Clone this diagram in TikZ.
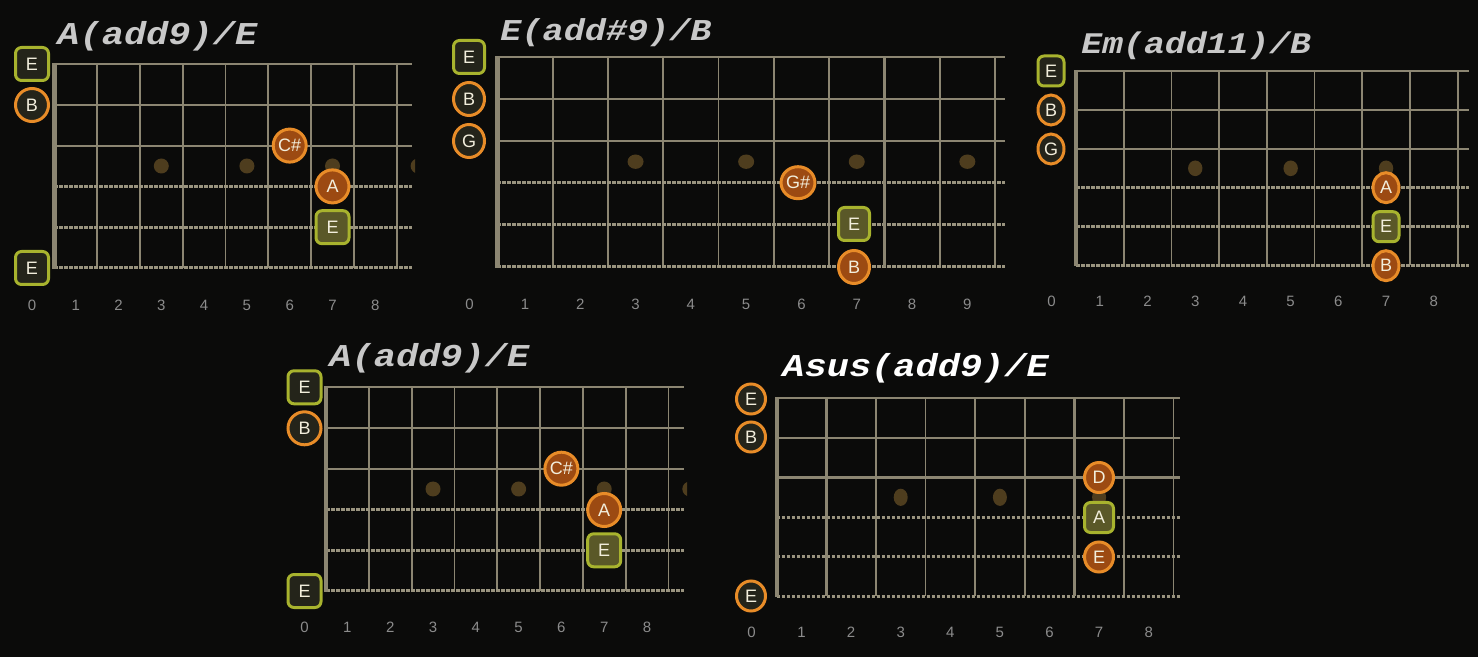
\documentclass[tikz,border=0pt]{standalone}
\usepackage{fontspec}
\setmainfont{Liberation Sans}
\setmonofont{Liberation Mono}
\usetikzlibrary{shapes.geometric}
\definecolor{bg}{HTML}{0B0B0A}
\definecolor{fretc}{HTML}{8C8672}
\definecolor{wound}{HTML}{9A947F}
\definecolor{inlay}{HTML}{4E3D1E}
\definecolor{orB}{HTML}{E88C28}
\definecolor{orF}{HTML}{9C4A12}
\definecolor{grB}{HTML}{A8B32E}
\definecolor{grF}{HTML}{5A5828}
\definecolor{openF}{HTML}{24241A}
\definecolor{numc}{HTML}{8C8C8C}
\definecolor{titlec}{HTML}{C8C8C8}
\definecolor{notetext}{HTML}{F2EEDC}
\newcommand\squash[1]{\scalebox{1}[0.86]{#1}}
\tikzset{
  fretline/.style={draw=fretc, line width=0.9pt},
  plainstring/.style={draw=fretc, line width=1pt},
  woundstring/.style={draw=wound, line width=1.5pt, dash pattern=on 1.8pt off 0.7pt},
  nutline/.style={draw=fretc, line width=2.2pt},
  inlaydot/.style={fill=inlay},
  fretnum/.style={text=numc, font=\fontsize{7.5}{8}\selectfont, inner sep=0pt},
  chordtitle/.style={text=titlec, font=\ttfamily\bfseries\itshape\fontsize{#1}{#1}\selectfont, inner sep=0pt, anchor=base west},
  chordtitle/.default=18.5,
  note/.style={inner sep=0pt, line width=1.5pt, text=notetext, font=\fontsize{9}{10}\selectfont},
  tone/.style={note, ellipse, draw=orB, fill=orF},
  toneopen/.style={note, ellipse, draw=orB, fill=openF},
  root/.style={note, rectangle, rounded corners=3pt, draw=grB, fill=grF},
  rootopen/.style={note, rectangle, rounded corners=3pt, draw=grB, fill=openF},
  sz/.style 2 args={minimum width=#1pt, minimum height=#2pt},
}
% #1 nut x, #2 top string y, #3 string gap, #4 fret gap, #5 string end x,
% #6 number of frets, #7 x of fret number 0, #8 y of fret numbers, #9 name prefix
\newcommand\fboard[9]{%
  \foreach \k in {1,...,#6} \draw[fretline] ({#1+\k*#4},#2) -- ({#1+\k*#4},{#2+5*#3});
  \foreach \s in {0,1,2} \draw[plainstring] (#1,{#2+\s*#3}) -- (#5,{#2+\s*#3});
  \foreach \s in {3,4,5} \draw[woundstring] (#1,{#2+\s*#3}) -- (#5,{#2+\s*#3});
  \draw[nutline] (#1,{#2-1}) -- (#1,{#2+5*#3+1});
  \node[fretnum] (#9-n0) at (#7,#8) {0};
  \foreach \k in {1,...,#6} \node[fretnum] (#9-n\k) at ({#1+(\k-0.5)*#4},#8) {\k};
}
\begin{document}
\begin{tikzpicture}[x=0.5pt,y=-0.5pt]
\fill[bg] (0,0) rectangle (1478,657);
\useasboundingbox (0,0) rectangle (1478,657);

% ---------- Diagram 1 : A(add9)/E ----------
\begin{scope}
  \clip (40,50) rectangle (415,290);
  \foreach \k in {3,5,7,9} \fill[inlaydot] ({54.3+(\k-0.5)*42.8},166) circle[radius=3.75pt];
\end{scope}
\fboard{54.3}{64}{40.8}{42.8}{412}{8}{32}{305}{a}
\node[chordtitle] (t1) at (57,44.5) {\squash{A(add9)/E}};
\node[rootopen, sz={16.5}{16.5}] (a-e6) at (32,64) {E};
\node[toneopen, sz={16.5}{16.5}] (a-b5) at (32,105) {B};
\node[rootopen, sz={16.5}{16.5}] (a-e1) at (32,268) {E};
\node[tone, sz={16.5}{16.5}] (a-cs) at (289.7,145.6) {C\#};
\node[tone, sz={16.5}{16.5}] (a-a) at (332.5,186.4) {A};
\node[root, sz={16.5}{16.5}] (a-e) at (332.5,227.2) {E};

% ---------- Diagram 2 : E(add#9)/B ----------
\foreach \k in {3,5,7,9} \fill[inlaydot] ({497.3+(\k-0.5)*55.3},161.7) ellipse[x radius=4pt, y radius=3.6pt];
\fboard{497.3}{57.3}{41.9}{55.3}{1005}{9}{469.5}{304}{b}
\draw[fretc, line width=1.6pt] ({497.3+7*55.3},57.3) -- ({497.3+7*55.3},{57.3+5*41.9});
\draw[nutline, line width=2.8pt] (497.3,56) -- (497.3,{57.3+5*41.9+1});
\node[chordtitle=17.6] (t2) at (500,40.5) {\squash{E(add\#9)/B}};
\node[rootopen, sz={15.5}{16.5}] (b-e6) at (469,57) {E};
\node[toneopen, sz={15.5}{16.5}] (b-b5) at (469,99) {B};
\node[toneopen, sz={15.5}{16.5}] (b-g4) at (469,141) {G};
\node[tone, sz={15.5}{16}] (b-gs) at (798,182.7) {G\#};
\node[root, sz={15.5}{16.5}] (b-e) at (854,224) {E};
\node[tone, sz={15.5}{16.5}] (b-b) at (854,267) {B};

% ---------- Diagram 3 : Em(add11)/B ----------
\foreach \k in {3,5,7} \fill[inlaydot] ({1076+(\k-0.5)*47.7},168.3) ellipse[x radius=3.6pt, y radius=3.9pt];
\fboard{1076}{71}{38.9}{47.7}{1468.7}{8}{1051.5}{301.7}{c}
\node[chordtitle=17.4] (t3) at (1081,54) {\squash{Em(add11)/B}};
\node[rootopen, sz={13}{15}] (c-e6) at (1051,71) {E};
\node[toneopen, sz={13}{15}] (c-b5) at (1051,110) {B};
\node[toneopen, sz={13}{15}] (c-g4) at (1051,149) {G};
\node[tone, sz={13}{15}] (c-a) at (1386,187.7) {A};
\node[root, sz={13}{15}] (c-e) at (1386,226.7) {E};
\node[tone, sz={13}{15}] (c-b) at (1386,265.7) {B};

% ---------- Diagram 4 : A(add9)/E ----------
\begin{scope}
  \clip (310,375) rectangle (687,600);
  \foreach \k in {3,5,7,9} \fill[inlaydot] ({326+(\k-0.5)*42.8},489) circle[radius=3.75pt];
\end{scope}
\fboard{326}{387.3}{40.7}{42.8}{684}{8}{304.5}{627.7}{d}
\node[chordtitle] (t4) at (329,367) {\squash{A(add9)/E}};
\node[rootopen, sz={16.5}{16.5}] (d-e6) at (304.5,387.3) {E};
\node[toneopen, sz={16.5}{16.5}] (d-b5) at (304.5,428.3) {B};
\node[rootopen, sz={16.5}{16.5}] (d-e1) at (304.5,591) {E};
\node[tone, sz={16.5}{16.5}] (d-cs) at (561.4,468.7) {C\#};
\node[tone, sz={16.5}{16.5}] (d-a) at (604.2,510) {A};
\node[root, sz={16.5}{16.5}] (d-e) at (604.2,550.3) {E};

% ---------- Diagram 5 : Asus(add9)/E ----------
\foreach \k in {3,5,7} \fill[inlaydot] ({776.7+(\k-0.5)*49.6},497.3) ellipse[x radius=3.5pt, y radius=4.3pt];
\fboard{776.7}{398.3}{39.6}{49.6}{1180}{8}{751.5}{632.3}{e}
\draw[fretc, line width=1.7pt] (776.7,477.5) -- (1180,477.5);
\draw[fretc, line width=1.6pt] ({776.7+49.6},398.3) -- ({776.7+49.6},596.3);
\draw[fretc, line width=1.6pt] ({776.7+6*49.6},398.3) -- ({776.7+6*49.6},596.3);
\node[chordtitle, text=white] (t5) at (782,377) {\squash{Asus(add9)/E}};
\node[toneopen, sz={14.5}{15}] (e-e6) at (751,399) {E};
\node[toneopen, sz={14.5}{15}] (e-b5) at (751,437) {B};
\node[toneopen, sz={14.5}{15}] (e-e1) at (751,596) {E};
\node[tone, sz={14.5}{15}] (e-d) at (1099,477.5) {D};
\node[root, sz={14.5}{15}] (e-a) at (1099,517.5) {A};
\node[tone, sz={14.5}{15}] (e-e) at (1099,557) {E};
\end{tikzpicture}
\end{document}
